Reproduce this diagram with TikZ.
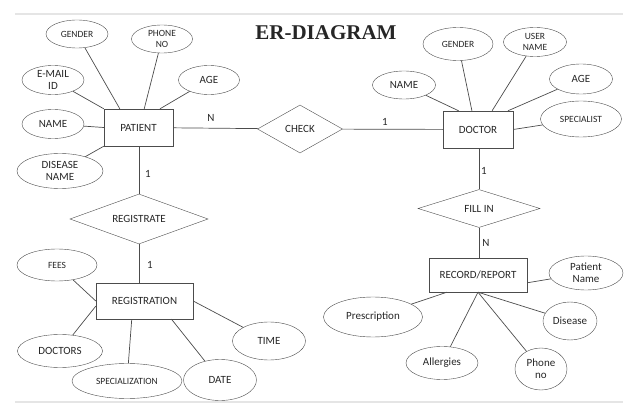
\documentclass[tikz,border=0pt]{standalone}
\usepackage{fontspec}
\setmainfont{Carlito}
\newfontfamily\titlefont{Liberation Serif}
\usetikzlibrary{shapes.geometric,
  positioning
}
\tikzset{
  entity/.style={draw=black!70,rectangle,inner sep=0pt,text=black!85,
    font=\fontsize{11}{12}\selectfont},
  attrib/.style={draw=black!70,ellipse,inner sep=0pt,align=center,text=black!85,
    font=\fontsize{11}{12}\selectfont},
  attribsmall/.style={attrib,font=\fontsize{9.5}{11}\selectfont},
  relation/.style={draw=black!70,diamond,aspect=2.5,inner sep=0pt,text=black!85,
    font=\fontsize{11}{12}\selectfont},
  card/.style={inner sep=0pt,text=black!85,font=\fontsize{11}{12}\selectfont},
  link/.style={draw=black!70,line width=0.7pt}
}

\begin{document}
\begin{tikzpicture}[x=1pt,y=-1pt]
  \useasboundingbox (0,0) rectangle (630,409);
  \draw[black!10,line width=2pt] (15,14) -- (623,14);
  \draw[black!10,line width=2pt] (15,402) -- (623,402);

  \node[font=\titlefont\bfseries\fontsize{21}{24}\selectfont,text=black!85] (title) at (326,33) {ER-DIAGRAM};

  % patient side
  \node[entity,minimum width=69pt,minimum height=37pt] (pat) at (138.5,127.5) {PATIENT};
  \node[attribsmall,minimum width=62pt,minimum height=28pt] (pgender) at (77,34) {GENDER};
  \node[attribsmall,minimum width=61pt,minimum height=28pt] (pphone) at (162,39) {PHONE\\NO};
  \node[attrib,minimum width=62pt,minimum height=29pt] (pmail) at (53,80) {E-MAIL\\ID};
  \node[attrib,minimum width=61pt,minimum height=29pt] (page) at (209,80) {AGE};
  \node[attrib,minimum width=62pt,minimum height=29pt] (pname) at (53,124) {NAME};
  \node[attrib,minimum width=86pt,minimum height=35pt] (pdisease) at (60,171) {DISEASE\\NAME};

  \draw[link] (pgender) -- (pat.135);
  \draw[link] (pphone) -- (pat.73);
  \draw[link] (page) -- (pat.41);
  \draw[link] (pmail) -- (pat.north west);
  \draw[link] (pname) -- (pat.west);
  \draw[link] (pdisease) -- (pat.south west);

  \node[relation,minimum width=85pt,minimum height=48pt] (check) at (300,129) {CHECK};
  \draw[link] (pat) -- (check);
  \node[card] (cpn) at (211,118) {N};
  \node[card] (cdn) at (385,122) {1};

  % doctor side
  \node[entity,minimum width=70pt,minimum height=37pt] (doc) at (478,129.5) {DOCTOR};
  \node[attribsmall,minimum width=70pt,minimum height=33pt] (dgender) at (458,44) {GENDER};
  \node[attribsmall,minimum width=63pt,minimum height=29pt] (duser) at (535,42) {USER\\NAME};
  \node[attrib,minimum width=63pt,minimum height=28pt] (dname) at (404,85) {NAME};
  \node[attrib,minimum width=63pt,minimum height=30pt] (dage) at (581,79) {AGE};
  \node[attribsmall,minimum width=81pt,minimum height=36pt] (dspec) at (581,119) {SPECIALIST};
  \draw[link] (check) -- (doc);

  \draw[link] (dname) -- (doc.136);
  \draw[link] (dgender) -- (doc.108);
  \draw[link] (duser) -- (doc.53);
  \draw[link] (dage) -- (doc.32);
  \draw[link] (dspec) -- (doc.east);

  % registration
  \node[relation,minimum width=138pt,minimum height=50pt] (regd) at (139,219) {REGISTRATE};
  \node[entity,minimum width=97pt,minimum height=36pt] (regn) at (144.5,301) {REGISTRATION};
  \draw[link] (pat.south -| regd.north) -- (regd.north);
  \draw[link] (regd.south) -- (regd.south |- regn.north);
  \node[card] (cpr) at (148,174) {1};
  \node[card] (crr) at (150,265) {1};

  \node[attribsmall,minimum width=80pt,minimum height=32pt] (fees) at (57,265) {FEES};
  \node[attrib,minimum width=85pt,minimum height=33pt] (rdoctors) at (60,351) {DOCTORS};
  \node[attribsmall,minimum width=110pt,minimum height=35pt] (rspec) at (127,381) {SPECIALIZATION};
  \node[attrib,minimum width=73pt,minimum height=41pt] (rdate) at (220,380) {DATE};
  \node[attrib,minimum width=73pt,minimum height=38pt] (rtime) at (269,341) {TIME};
  \draw[link] (fees) -- (regn.west);
  \draw[link] (rdoctors) -- (regn.186);
  \draw[link] (rspec) -- (regn.235);
  \draw[link] (rdate) -- (regn.326);
  \draw[link] (rtime) -- (regn.east);

  % record
  \node[relation,minimum width=122pt,minimum height=38pt] (fill) at (479,208.5) {FILL IN};
  \node[entity,minimum width=98pt,minimum height=34pt] (rec) at (478,275) {RECORD/REPORT};
  \draw[link] (doc.south -| fill.north) -- (fill.north);
  \draw[link] (fill.south) -- (fill.south |- rec.north);
  \node[card] (cdf) at (484,171) {1};
  \node[card] (cfr) at (486,243) {N};

  \node[attrib,minimum width=74pt,minimum height=34pt] (kname) at (586,273) {Patient\\Name};
  \node[attrib,minimum width=99pt,minimum height=40pt] (kpres) at (373,317) {Prescription};
  \node[attrib,minimum width=54pt,minimum height=38pt] (kdis) at (570,321) {Disease};
  \node[attrib,minimum width=72pt,minimum height=33pt] (kall) at (442,363) {Allergies};
  \node[attrib,minimum width=52pt,minimum height=42pt] (kphone) at (541,369) {Phone\\no};
  \draw[link] (kname) -- (rec.351);
  \draw[link] (kpres) -- (rec.209);
  \draw[link] (kall) -- (rec.south);
  \draw[link] (kphone) -- (rec.south);
  \draw[link] (kdis) -- (rec.south);
\end{tikzpicture}
\end{document}
